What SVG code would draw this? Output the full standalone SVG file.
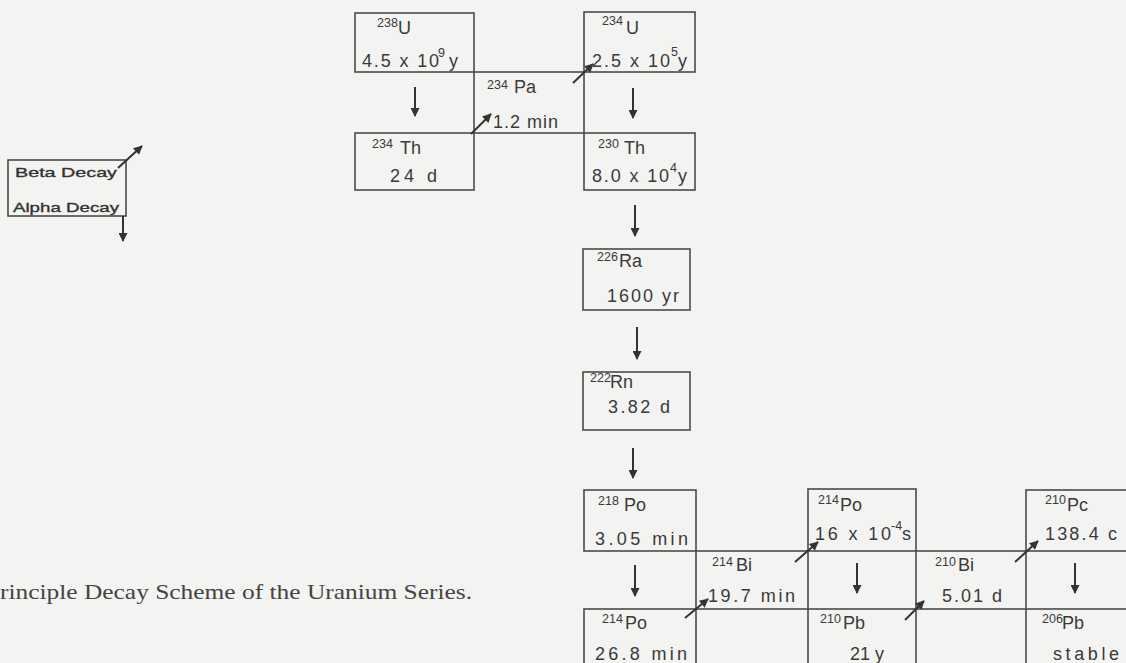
<svg xmlns="http://www.w3.org/2000/svg" width="1126" height="663" viewBox="0 0 1126 663">
<defs>
<style>
.bg{fill:#f3f3f1}
.bx{fill:none;stroke:#4a4a4a;stroke-width:1.6}
.t{font-family:"Liberation Sans",Arial,sans-serif;fill:#3a3a3a;font-size:18px}
.s{font-family:"Liberation Sans",Arial,sans-serif;fill:#3a3a3a;font-size:12.5px}
.lg{font-family:"Liberation Sans",Arial,sans-serif;fill:#333;stroke:#333;stroke-width:0.35;font-size:13.5px}
.cap{font-family:"Liberation Serif","Times New Roman",serif;fill:#444;font-size:22px}
.ar{stroke:#333;stroke-width:2;fill:none}
</style>
<marker id="ah" viewBox="0 0 10 10" refX="9" refY="5" markerWidth="12" markerHeight="9" markerUnits="userSpaceOnUse" orient="auto">
<path d="M0,0 L10,5 L0,10 z" fill="#333"/>
</marker>
<marker id="bh" viewBox="0 0 10 10" refX="9" refY="5" markerWidth="12" markerHeight="9" markerUnits="userSpaceOnUse" orient="auto">
<path d="M0,0 L10,5 L0,10 z" fill="#333"/>
</marker>
</defs>
<rect class="bg" x="0" y="0" width="1126" height="663"/>

<g id="legend">
<rect class="bx" x="8" y="160" width="118" height="56"/>
<text class="lg" x="15" y="177" textLength="102" lengthAdjust="spacingAndGlyphs">Beta Decay</text>
<text class="lg" x="13" y="212" textLength="106" lengthAdjust="spacingAndGlyphs">Alpha Decay</text>
</g>

<g id="U238">
<rect class="bx" x="355" y="13" width="119" height="59"/>
<text class="s" x="377" y="27">238</text><text class="t" x="398" y="34">U</text>
<text class="t" x="362" y="67" textLength="77" lengthAdjust="spacing">4.5 x 10</text><text class="s" x="438" y="57">9</text><text class="t" x="449" y="67">y</text>
</g>

<g id="U234">
<rect class="bx" x="584" y="12" width="111" height="60"/>
<text class="s" x="602" y="25">234</text><text class="t" x="626" y="34">U</text>
<text class="t" x="592" y="67" textLength="78" lengthAdjust="spacing">2.5 x 10</text><text class="s" x="671" y="56">5</text><text class="t" x="678" y="67">y</text>
</g>

<g id="Pa234">
<rect class="bx" x="474" y="72" width="110" height="61"/>
<text class="s" x="487" y="89">234</text><text class="t" x="514" y="93">Pa</text>
<text class="t" x="493" y="128" textLength="65" lengthAdjust="spacing">1.2 min</text>
</g>

<g id="Th234">
<rect class="bx" x="355" y="133" width="119" height="57"/>
<text class="s" x="372" y="148">234</text><text class="t" x="400" y="154">Th</text>
<text class="t" x="390" y="182" textLength="47" lengthAdjust="spacing">24 d</text>
</g>

<g id="Th230">
<rect class="bx" x="584" y="133" width="111" height="57"/>
<text class="s" x="598" y="148">230</text><text class="t" x="624" y="154">Th</text>
<text class="t" x="592" y="182" textLength="77" lengthAdjust="spacing">8.0 x 10</text><text class="s" x="670" y="172">4</text><text class="t" x="678" y="182">y</text>
</g>

<g id="Ra226">
<rect class="bx" x="583" y="249" width="107" height="61"/>
<text class="s" x="597" y="261">226</text><text class="t" x="619" y="267">Ra</text>
<text class="t" x="607" y="302" textLength="72" lengthAdjust="spacing">1600 yr</text>
</g>

<g id="Rn222">
<rect class="bx" x="583" y="372" width="107" height="58"/>
<text class="s" x="590" y="382">222</text><text class="t" x="610" y="388">Rn</text>
<text class="t" x="608" y="413" textLength="62" lengthAdjust="spacing">3.82 d</text>
</g>

<g id="Po218">
<rect class="bx" x="584" y="490" width="112" height="61"/>
<text class="s" x="598" y="505">218</text><text class="t" x="624" y="511">Po</text>
<text class="t" x="595" y="545" textLength="93" lengthAdjust="spacing">3.05 min</text>
</g>

<g id="Bi214">
<rect class="bx" x="696" y="551" width="112" height="58"/>
<text class="s" x="712" y="566">214</text><text class="t" x="736" y="571">Bi</text>
<text class="t" x="708" y="602" textLength="87" lengthAdjust="spacing">19.7 min</text>
</g>

<g id="Po214b">
<rect class="bx" x="584" y="609" width="112" height="70"/>
<text class="s" x="602" y="623">214</text><text class="t" x="625" y="629">Po</text>
<text class="t" x="595" y="660" textLength="92" lengthAdjust="spacing">26.8 min</text>
</g>

<g id="Po214a">
<rect class="bx" x="808" y="489" width="108" height="62"/>
<text class="s" x="818" y="504">214</text><text class="t" x="840" y="511">Po</text>
<text class="t" x="815" y="540" textLength="76" lengthAdjust="spacing">16 x 10</text><text class="s" x="891" y="530">-4</text><text class="t" x="902" y="540">s</text>
</g>

<g id="Bi210">
<rect class="bx" x="916" y="551" width="110" height="58"/>
<text class="s" x="935" y="566">210</text><text class="t" x="958" y="571">Bi</text>
<text class="t" x="942" y="602" textLength="60" lengthAdjust="spacing">5.01 d</text>
</g>

<g id="Pb210">
<rect class="bx" x="808" y="609" width="108" height="70"/>
<text class="s" x="820" y="623">210</text><text class="t" x="843" y="629">Pb</text>
<text class="t" x="850" y="660">21 y</text>
</g>

<g id="Po210">
<rect class="bx" x="1026" y="490" width="110" height="61"/>
<text class="s" x="1045" y="504">210</text><text class="t" x="1067" y="511">Pc</text>
<text class="t" x="1045" y="540" textLength="72" lengthAdjust="spacing">138.4 c</text>
</g>

<g id="Pb206">
<rect class="bx" x="1026" y="609" width="110" height="70"/>
<text class="s" x="1042" y="623">206</text><text class="t" x="1062" y="629">Pb</text>
<text class="t" x="1053" y="660" textLength="66" lengthAdjust="spacing">stable</text>
</g>

<g id="connectors">
<line class="ar" x1="123" y1="216" x2="123" y2="241" marker-end="url(#ah)"/>
<line class="ar" x1="118" y1="168" x2="142" y2="146" marker-end="url(#bh)"/>
<line class="ar" x1="415" y1="87" x2="415" y2="116" marker-end="url(#ah)"/>
<line class="ar" x1="633" y1="88" x2="633" y2="118" marker-end="url(#ah)"/>
<line class="ar" x1="635" y1="205" x2="635" y2="236" marker-end="url(#ah)"/>
<line class="ar" x1="637" y1="327" x2="637" y2="359" marker-end="url(#ah)"/>
<line class="ar" x1="633" y1="448" x2="633" y2="478" marker-end="url(#ah)"/>
<line class="ar" x1="635" y1="565" x2="635" y2="596" marker-end="url(#ah)"/>
<line class="ar" x1="857" y1="563" x2="857" y2="593" marker-end="url(#ah)"/>
<line class="ar" x1="1075" y1="563" x2="1075" y2="593" marker-end="url(#ah)"/>
<line class="ar" x1="471" y1="134" x2="491" y2="114" marker-end="url(#bh)"/>
<line class="ar" x1="573" y1="83" x2="593" y2="64" marker-end="url(#bh)"/>
<line class="ar" x1="685" y1="618" x2="708" y2="599" marker-end="url(#bh)"/>
<line class="ar" x1="795" y1="562" x2="818" y2="542" marker-end="url(#bh)"/>
<line class="ar" x1="905" y1="620" x2="924" y2="601" marker-end="url(#bh)"/>
<line class="ar" x1="1015" y1="562" x2="1038" y2="541" marker-end="url(#bh)"/>
</g>

<text class="cap" x="0" y="599" textLength="472" lengthAdjust="spacingAndGlyphs">rinciple Decay Scheme of the Uranium Series.</text>
</svg>
